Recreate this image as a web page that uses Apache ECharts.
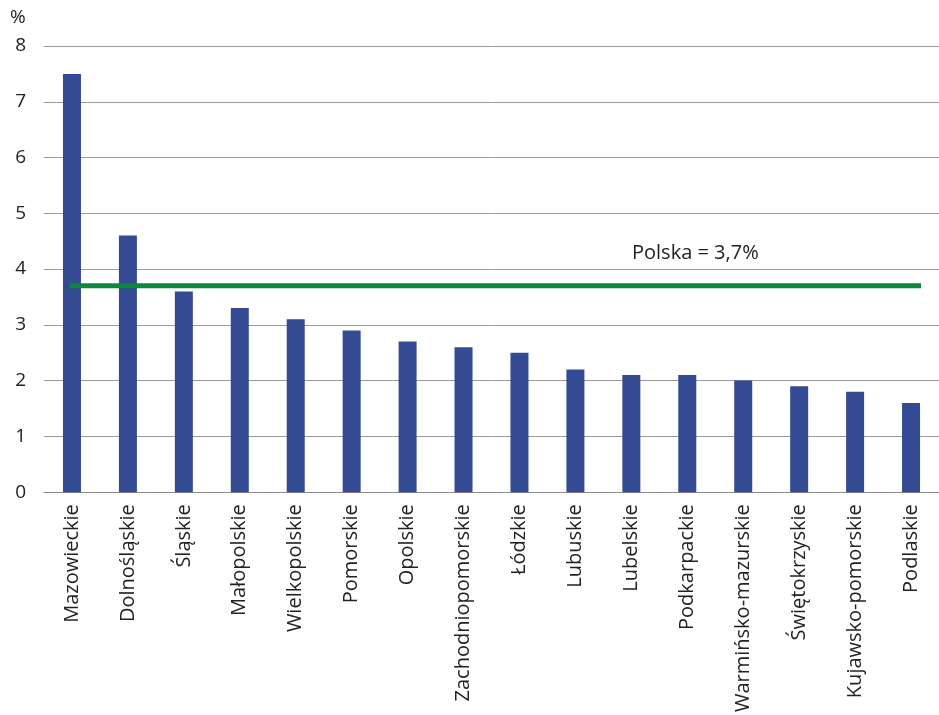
<!DOCTYPE html>
<html><head><meta charset="utf-8">
<script src="https://cdn.jsdelivr.net/npm/echarts@6/dist/echarts.min.js"></script>
<style>html,body{margin:0;padding:0;background:#fff}#c{width:939px;height:715px}</style>
</head><body><div id="c"></div>
<script>
const categories = ['Mazowieckie','Dolnośląskie','Śląskie','Małopolskie','Wielkopolskie','Pomorskie','Opolskie','Zachodniopomorskie','Łódzkie','Lubuskie','Lubelskie','Podkarpackie','Warmińsko-mazurskie','Świętokrzyskie','Kujawsko-pomorskie','Podlaskie'];
const values = [7.5,4.6,3.6,3.3,3.1,2.9,2.7,2.6,2.5,2.2,2.1,2.1,2.0,1.9,1.8,1.6];
const polskaValue = 3.7;
const polskaSpan = [0.46, 15.68];
const yTicks = [0,1,2,3,4,5,6,7,8];
const font = 'Open Sans';
const chart = echarts.init(document.getElementById('c'), null, {renderer:'canvas'});
chart.setOption({
  animation:false,
  textStyle:{fontFamily:font},
  grid:{left:44,right:0,top:46,bottom:221,containLabel:false},
  xAxis:[{
    type:'category', data:categories,
    axisTick:{show:false},
    axisLine:{lineStyle:{color:'#8c8c8c',width:1}},
    axisLabel:{rotate:90,fontSize:20,color:'#222',margin:12,interval:0,fontFamily:font}
  },{
    type:'value', min:0, max:categories.length, show:false
  }],
  yAxis:{
    type:'value', min:yTicks[0], max:yTicks[yTicks.length-1], interval:1,
    axisLine:{show:false}, axisTick:{show:false},
    splitLine:{lineStyle:{color:'#999',width:1}},
    axisLabel:{fontSize:19,color:'#222',margin:18,fontFamily:font}
  },
  graphic:[
    {type:'text',left:10,top:8,style:{text:'%',fontSize:19,fill:'#222',fontFamily:font}},
    {type:'text',left:632,top:243,style:{text:'Polska = 3,7%',fontSize:20,fill:'#222',fontFamily:font}}
  ],
  series:[{
    type:'bar', data:values, barWidth:18,
    itemStyle:{color:'#344a93'}
  },{
    type:'line', xAxisIndex:1, symbol:'none',
    data:[[polskaSpan[0],polskaValue],[polskaSpan[1],polskaValue]],
    lineStyle:{color:'#0b8a3e',width:5}
  }]
});
</script></body></html>
